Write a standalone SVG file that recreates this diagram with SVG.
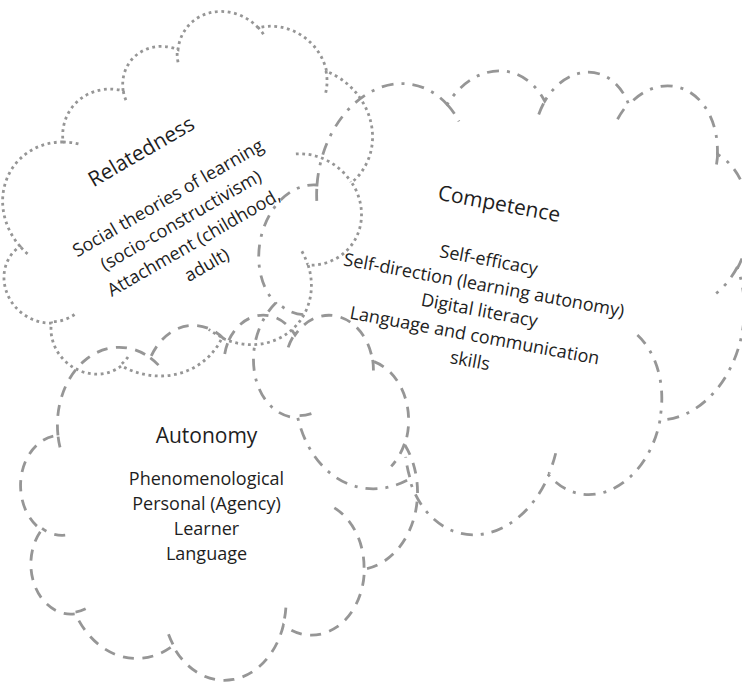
<svg xmlns="http://www.w3.org/2000/svg" width="742" height="683" viewBox="0 0 742 683">
<style>
  .outline { fill: none; stroke: #969696; stroke-width: 2.8; }
  .dot { stroke-dasharray: 2.8 3.6; }
  .dash { stroke-dasharray: 11 8.5; }
  .dashdot { stroke-dasharray: 12 8 3 8; }
  text { font-family: "Open Sans", "Liberation Sans", sans-serif; fill: #1e1e1e; text-anchor: middle; }
  .head { font-size: 21px; }
  .body { font-size: 18px; }
</style>
<defs>
  <path id="cloud" vector-effect="non-scaling-stroke" d="M 9.03 33.26 A 15.63 21.27 0 0 1 32.42 12.04 A 12.35 16.82 0 0 1 51.98 7.95 A 10.10 13.76 0 0 1 69.06 5.75 A 11.24 15.27 0 0 1 88.70 12.91 A 12.35 16.84 0 0 1 96.81 35.79 A 15.68 21.34 0 0 1 86.59 69.92 A 13.39 18.21 0 0 1 66.10 85.22 A 15.63 21.33 0 0 1 38.15 90.90 A 17.87 24.41 0 0 1 13.44 82.11 A 10.09 13.70 0 0 1 4.89 59.14 A 10.06 13.76 0 0 1 9.03 33.26 Z"/>
  <path id="hooks" vector-effect="non-scaling-stroke" d="M 10.86 60.59 A 10.06 13.76 0 0 1 5.00 58.75 M 16.04 80.78 A 10.09 13.70 0 0 1 13.47 81.67 M 38.14 90.49 A 15.63 21.33 0 0 1 36.60 86.45 M 66.73 80.44 A 15.63 21.33 0 0 1 66.11 84.86 M 79.00 53.13 A 13.39 18.21 0 0 1 86.53 69.65 M 96.75 35.54 A 12.35 16.84 0 0 1 93.40 41.74 M 88.71 12.56 A 11.24 15.27 0 0 1 88.89 15.48 M 67.31 9.15 A 11.24 15.27 0 0 1 69.03 5.41 M 51.25 10.93 A 10.10 13.76 0 0 1 52.08 7.71 M 32.41 12.02 A 15.63 21.27 0 0 1 35.41 15.14 M 9.55 36.55 A 15.63 21.27 0 0 1 9.03 33.26"/>
</defs>

<g id="relatedness">
  <g class="outline dot" transform="matrix(3.442 -2.068 1.765 2.635 -69.8 177.3)">
    <use href="#cloud"/>
    <use href="#hooks"/>
  </g>
  <g transform="rotate(-30)">
    <text class="head" x="46.5" y="209">Relatedness</text>
    <text class="body" x="46.5" y="261.5">Social theories of learning</text>
    <text class="body" x="46.5" y="287.3">(socio-constructivism)</text>
    <text class="body" x="46.5" y="313.1">Attachment (childhood,</text>
    <text class="body" x="46.5" y="338.9">adult)</text>
  </g>
</g>

<g id="competence">
  <g class="outline dashdot" transform="matrix(4.814 0.8127 -0.828 4.691 301.07 21.64)">
    <use href="#cloud"/>
    <use href="#hooks"/>
  </g>
  <g transform="rotate(10.5)">
    <text class="head" x="527.9" y="116.5">Competence</text>
    <text class="body" x="527.9" y="172.7">Self-efficacy</text>
    <text class="body" x="527.9" y="198.3">Self-direction (learning autonomy)</text>
    <text class="body" x="527.9" y="223.9">Digital literacy</text>
    <text class="body" x="527.9" y="249.5">Language and communication</text>
    <text class="body" x="527.9" y="275.1">skills</text>
  </g>
</g>

<g id="autonomy">
  <g class="outline dash" transform="matrix(3.95 0 0 3.65 22.3 314)">
    <use href="#cloud"/>
    <use href="#hooks"/>
  </g>
  <text class="head" x="206.5" y="443.3">Autonomy</text>
  <text class="body" x="206.5" y="484.5">Phenomenological</text>
  <text class="body" x="206.5" y="509.8">Personal (Agency)</text>
  <text class="body" x="206.5" y="535.1">Learner</text>
  <text class="body" x="206.5" y="560.4">Language</text>
</g>
</svg>
